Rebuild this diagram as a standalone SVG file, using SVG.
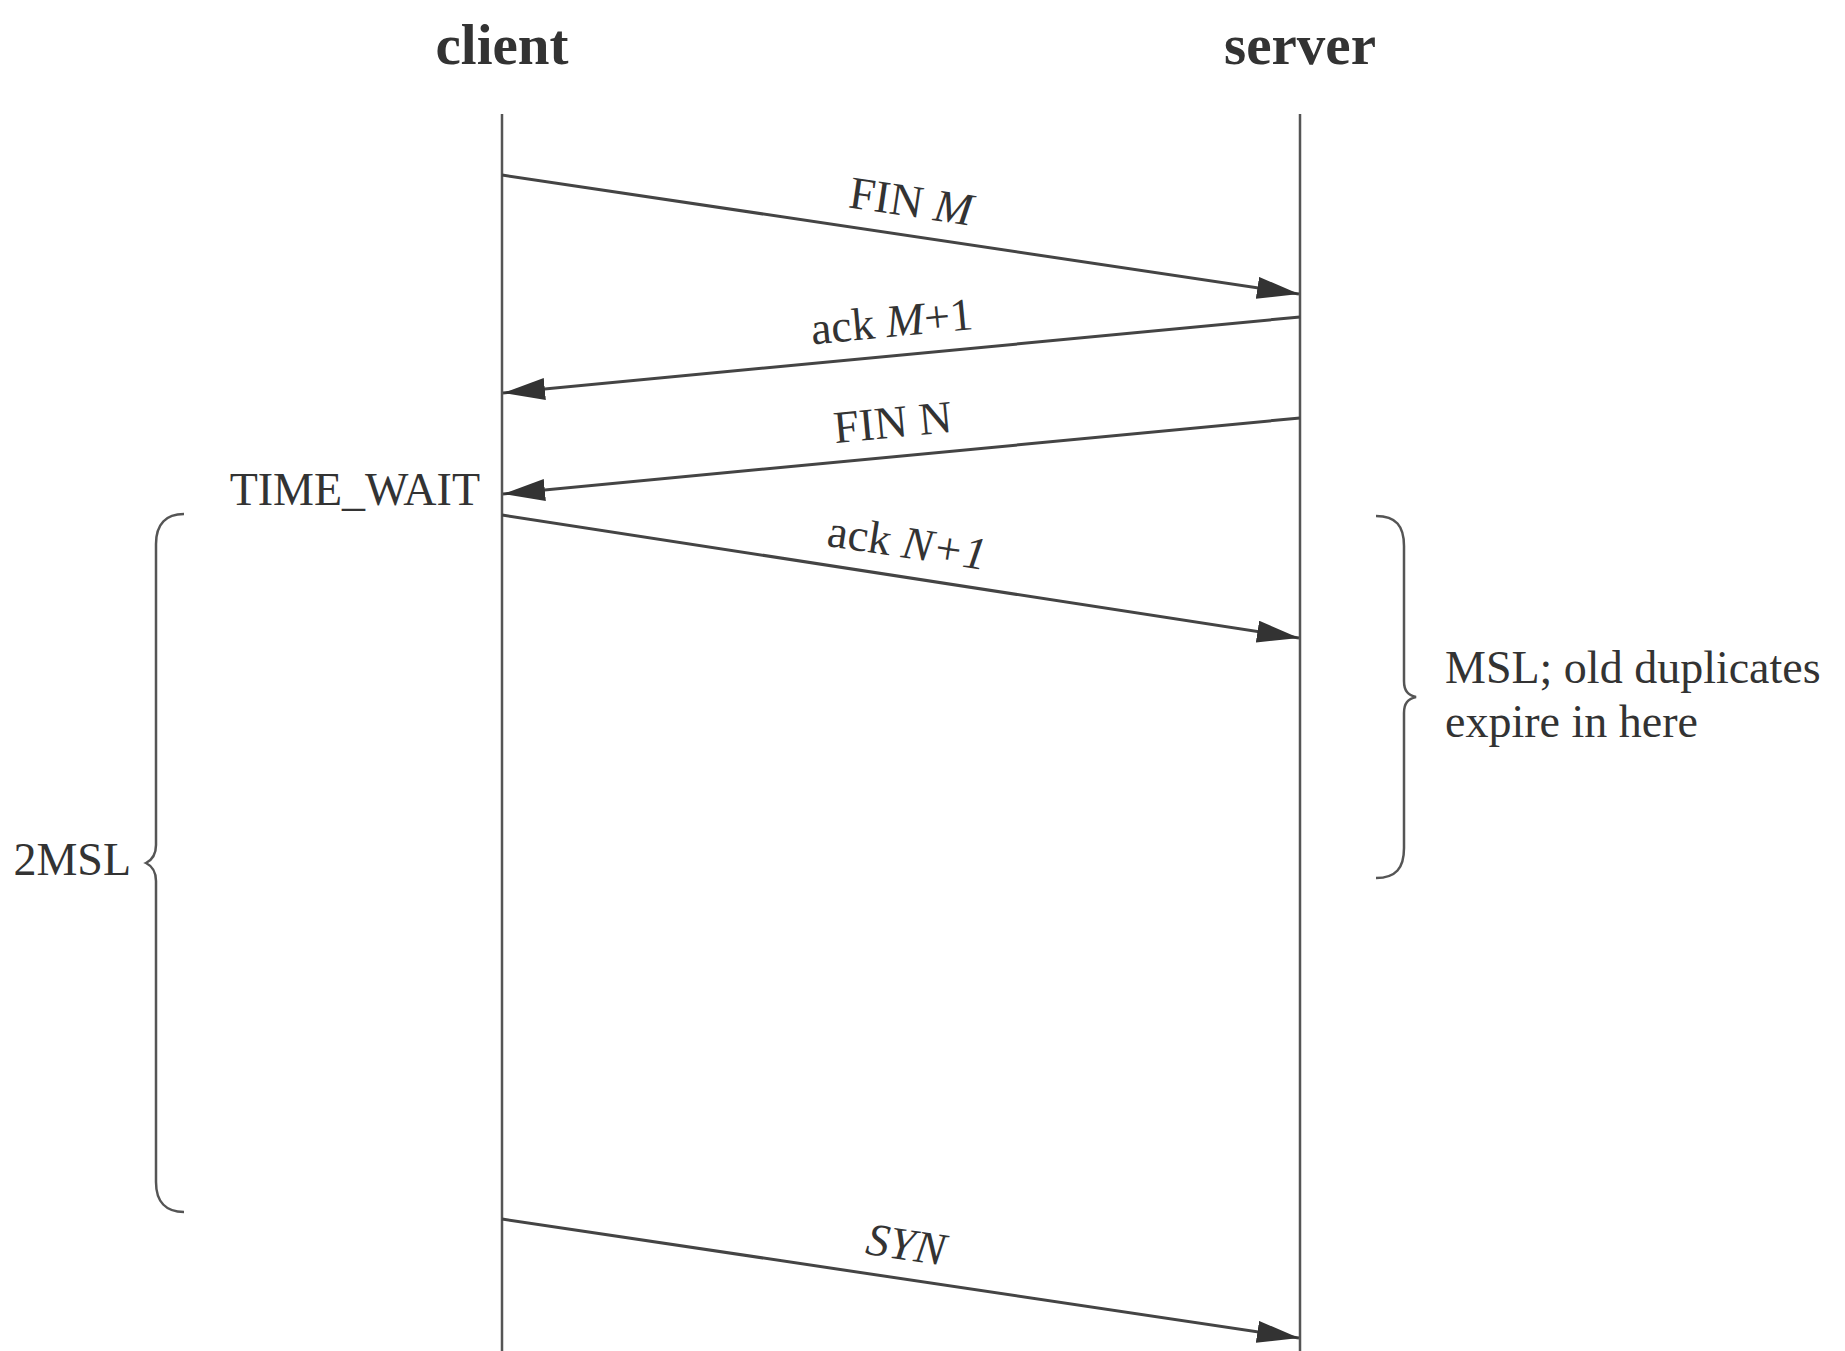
<svg xmlns="http://www.w3.org/2000/svg" width="1845" height="1351" viewBox="0 0 1845 1351">
  <style>
    .title { font-family: "Liberation Serif", "Times New Roman", serif; font-weight: bold; font-size: 57px; fill: #333; text-anchor: middle; }
    .lbl { font-family: "Liberation Serif", "Times New Roman", serif; font-size: 46px; fill: #333; }
    .mid { text-anchor: middle; }
    .it { font-style: italic; }
    .life { stroke: #555; stroke-width: 2.5; fill: none; }
    .msg { stroke: #444; stroke-width: 3; fill: none; marker-end: url(#arrow); }
    .brace { stroke: #555; stroke-width: 2.5; fill: none; }
  </style>
  <defs>
    <marker id="arrow" markerUnits="userSpaceOnUse" markerWidth="42" markerHeight="22" refX="42" refY="11" orient="auto">
      <path d="M0,0 L42,11 L0,22 Z" fill="#333"/>
    </marker>
  </defs>
  <rect width="1845" height="1351" fill="#fff"/>

  <g id="client">
    <text class="title" x="502" y="64">client</text>
    <line class="life" x1="502" y1="114" x2="502" y2="1351"/>
  </g>
  <g id="server">
    <text class="title" x="1300" y="64">server</text>
    <line class="life" x1="1300" y1="114" x2="1300" y2="1351"/>
  </g>

  <g id="connectors">
    <line class="msg" x1="502" y1="175" x2="1299" y2="294"/>
    <line class="msg" x1="1300" y1="317" x2="503" y2="393"/>
    <line class="msg" x1="1300" y1="418" x2="503" y2="494"/>
    <line class="msg" x1="502" y1="515" x2="1299" y2="638"/>
    <line class="msg" x1="502" y1="1219" x2="1299" y2="1338"/>
  </g>

  <g id="msg-labels">
    <text class="lbl mid" transform="translate(906,235.2) rotate(8.48)" x="0" y="-19">FIN <tspan class="it">M</tspan></text>
    <text class="lbl mid" transform="translate(895,355.6) rotate(-5.44)" x="0" y="-19">ack <tspan class="it">M</tspan>+1</text>
    <text class="lbl mid" transform="translate(896,456.5) rotate(-5.44)" x="0" y="-19">FIN N</text>
    <text class="lbl mid" transform="translate(902,576.6) rotate(8.76)" x="0" y="-19">ack <tspan class="it">N+1</tspan></text>
    <text class="lbl mid it" transform="translate(901,1278.5) rotate(8.48)" x="0" y="-19">SYN</text>
  </g>

  <g id="time-wait">
    <text class="lbl" x="480" y="505" text-anchor="end">TIME_WAIT</text>
  </g>

  <g id="two-msl">
    <path class="brace" d="M184,514 C166,514 156,524 156,544 L156,845 C156,855 152,860 146,863 C152,866 156,871 156,881 L156,1182 C156,1202 166,1212 184,1212"/>
    <text class="lbl" x="131" y="875" text-anchor="end">2MSL</text>
  </g>

  <g id="msl">
    <path class="brace" d="M1376,516 C1396,516 1404,526 1404,546 L1404,681 C1404,691 1408,695 1416,697 C1408,699 1404,703 1404,713 L1404,848 C1404,868 1396,878 1376,878"/>
    <text class="lbl" x="1445" y="683">MSL; old duplicates</text>
    <text class="lbl" x="1445" y="737">expire in here</text>
  </g>
</svg>
